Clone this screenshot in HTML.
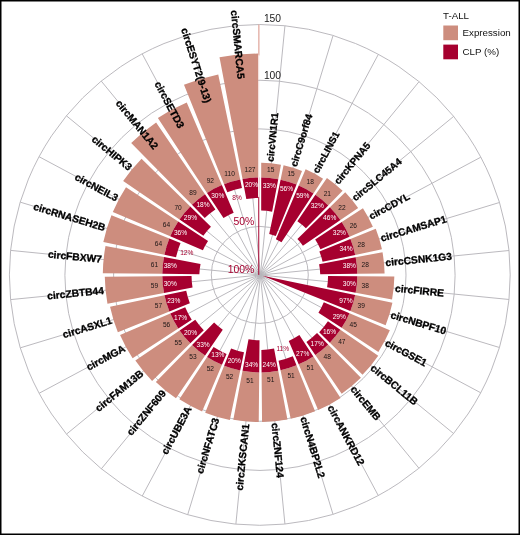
<!DOCTYPE html>
<html lang="en"><head><meta charset="utf-8"><title>T-ALL circRNA expression and CLP</title>
<style>html,body{margin:0;padding:0;background:#fff}body{width:520px;height:535px;overflow:hidden}svg{display:block}</style></head>
<body>
<svg width="520" height="535" viewBox="0 0 520 535">
<rect x="0" y="0" width="520" height="535" fill="#fff"/>
<g fill="none" stroke="#b7b5bb" stroke-width="0.95">
<circle cx="259.8" cy="274.9" r="48.5"/>
<circle cx="259.8" cy="275.1" r="146.2"/>
<circle cx="260" cy="275.35" r="195.1"/>
<circle cx="259.8" cy="274.9" r="250.4"/>
<path d="M260.4 275L235.84 25.65M260.4 275L187.63 35.12M260.4 275L142.19 53.84M260.4 275L101.26 81.08M260.4 275L66.43 115.81M260.4 275L39.06 156.69M260.4 275L20.2 202.14M260.4 275L10.6 250.4M260.4 275L10.62 299.6M260.4 275L20.26 347.85M260.4 275L39.14 393.26M260.4 275L66.53 434.11M260.4 275L101.36 468.8M260.4 275L142.27 496M260.4 275L187.69 514.69M260.4 275L235.86 524.15M260.4 275L284.93 524.04M260.4 275L333.01 514.36M260.4 275L378.26 495.51M260.4 275L418.96 468.21M260.4 275L453.55 433.52M260.4 275L480.72 392.77M260.4 275L499.44 347.51M260.4 275L508.99 299.48M260.4 275L509.01 250.51M260.4 275L499.5 202.47M260.4 275L480.81 157.19M260.4 275L453.65 116.4M260.4 275L419.06 81.67M260.4 275L378.35 54.34M260.4 275L333.06 35.46M260.4 275L284.95 25.77"/>
</g>
<path d="M258 53.58A221.32 221.32 0 0 0 219.51 57.27L242.51 178.95A97.5 97.5 0 0 1 258 177.42ZM218.24 74.41A204.75 204.75 0 0 0 183.98 84.71L224.07 184.18A97.5 97.5 0 0 1 240.17 179.4ZM186.75 102.54A187.2 187.2 0 0 0 157.88 117.88L207 192.94A97.5 97.5 0 0 1 221.87 185.08ZM156.11 122.56A184.27 184.27 0 0 0 131.19 142.93L191.96 204.87A97.5 97.5 0 0 1 205.01 194.25ZM141.55 158.76A165.75 165.75 0 0 0 123.16 181.08L179.54 219.54A97.5 97.5 0 0 1 190.27 206.55ZM126 187.35A159.9 159.9 0 0 0 112.82 211.93L170.24 236.36A97.5 97.5 0 0 1 178.21 221.52ZM111.45 215.24A159.9 159.9 0 0 0 103.34 241.93L164.42 254.69A97.5 97.5 0 0 1 169.32 238.57ZM105.51 245.99A156.97 156.97 0 0 0 102.83 273.24L162.31 273.81A97.5 97.5 0 0 1 163.95 257.03ZM104.79 276.74A155.03 155.03 0 0 0 107.46 303.64L163.99 292.96A97.5 97.5 0 0 1 162.31 276.19ZM110.06 306.66A153.07 153.07 0 0 0 117.85 332.18L169.39 311.41A97.5 97.5 0 0 1 164.46 295.3ZM120.07 334.98A152.1 152.1 0 0 0 132.62 358.32L178.3 328.42A97.5 97.5 0 0 1 170.31 313.61ZM135.34 360.62A151.12 151.12 0 0 0 152.09 380.9L190.37 343.35A97.5 97.5 0 0 1 179.64 330.4ZM155.87 381.91A149.18 149.18 0 0 0 175.99 398.3L205.11 355.61A97.5 97.5 0 0 1 192.06 345.02ZM179.33 399.35A148.2 148.2 0 0 0 202.09 411.4L221.94 364.75A97.5 97.5 0 0 1 207.09 356.92ZM205.19 412.67A148.2 148.2 0 0 0 229.84 420.04L240.21 370.41A97.5 97.5 0 0 1 224.14 365.64ZM233.31 419.72A147.22 147.22 0 0 0 258.74 422.12L259.22 372.4A97.5 97.5 0 0 1 242.54 370.86ZM262.06 422.11A147.22 147.22 0 0 0 287.45 419.51L278.22 370.64A97.5 97.5 0 0 1 261.58 372.38ZM290.71 418.84A147.22 147.22 0 0 0 315.08 411.35L296.5 365.23A97.5 97.5 0 0 1 280.54 370.17ZM318.14 410.07A147.22 147.22 0 0 0 340.58 397.98L313.35 356.38A97.5 97.5 0 0 1 298.67 364.31ZM341.68 393.72A144.3 144.3 0 0 0 360.93 377.83L328.16 344.42A97.5 97.5 0 0 1 315.31 355.05ZM362.53 374.84A143.32 143.32 0 0 0 378.2 355.66L340.35 329.84A97.5 97.5 0 0 1 329.82 342.75ZM378.37 351.9A141.38 141.38 0 0 0 389.85 330.35L349.47 313.17A97.5 97.5 0 0 1 341.65 327.87ZM385.64 325.21A135.53 135.53 0 0 0 392.42 302.83L355.19 295.06A97.5 97.5 0 0 1 350.37 310.99ZM392.06 299.62A134.55 134.55 0 0 0 394.34 276.53L357.29 276.18A97.5 97.5 0 0 1 355.65 292.75ZM384.59 273.56A124.8 124.8 0 0 0 382.51 252.18L355.69 257.25A97.5 97.5 0 0 1 357.29 273.82ZM381.96 249.35A124.8 124.8 0 0 0 375.76 228.78L350.44 238.98A97.5 97.5 0 0 1 355.23 254.93ZM372.87 226.87A122.85 122.85 0 0 0 362.96 208.19L341.74 222.07A97.5 97.5 0 0 1 349.55 236.8ZM358.16 208.01A118.95 118.95 0 0 0 345.23 192.13L329.92 207.15A97.5 97.5 0 0 1 340.44 220.1ZM342.59 190.86A117.97 117.97 0 0 0 326.94 177.89L315.4 194.81A97.5 97.5 0 0 1 328.26 205.47ZM323.05 178.8A115.05 115.05 0 0 0 305.62 169.37L298.75 185.52A97.5 97.5 0 0 1 313.44 193.48ZM302.03 171.03A112.12 112.12 0 0 0 283.57 165.32L280.58 179.64A97.5 97.5 0 0 1 296.56 184.6ZM280.97 164.79A112.12 112.12 0 0 0 261.2 162.78L261.2 177.41A97.5 97.5 0 0 1 278.25 179.16Z" fill="#CD8D7E"/>
<path d="M258 177.42A97.5 97.5 0 0 0 242.51 178.95L246.31 199.08A78 78 0 0 1 258.03 197.92ZM240.17 179.4A97.5 97.5 0 0 0 224.07 184.18L227.33 192.28A89.7 89.7 0 0 1 241.97 187.99ZM221.87 185.08A97.5 97.5 0 0 0 207 192.94L223.48 218.12A68.25 68.25 0 0 1 233.68 212.84ZM205.01 194.25A97.5 97.5 0 0 0 191.96 204.87L204.75 217.92A79.95 79.95 0 0 1 215.37 209.43ZM190.27 206.55A97.5 97.5 0 0 0 179.54 219.54L203.37 235.8A69.22 69.22 0 0 1 210.96 226.85ZM178.21 221.52A97.5 97.5 0 0 0 170.24 236.36L202.91 250.26A62.4 62.4 0 0 1 208.05 241.04ZM169.32 238.57A97.5 97.5 0 0 0 164.42 254.69L176.08 257.13A85.8 85.8 0 0 1 180.53 243.08ZM163.95 257.03A97.5 97.5 0 0 0 162.31 273.81L199.37 274.16A60.45 60.45 0 0 1 200.54 263.95ZM162.31 276.19A97.5 97.5 0 0 0 163.99 292.96L192.55 287.56A68.25 68.25 0 0 1 191.55 275.91ZM164.46 295.3A97.5 97.5 0 0 0 169.39 311.41L189.85 303.16A75.08 75.08 0 0 1 186.21 290.76ZM170.31 313.61A97.5 97.5 0 0 0 178.3 328.42L191.72 319.64A80.92 80.92 0 0 1 185.2 307.27ZM179.64 330.4A97.5 97.5 0 0 0 190.37 343.35L203.79 330.18A78 78 0 0 1 195.28 319.73ZM192.06 345.02A97.5 97.5 0 0 0 205.11 355.61L222.77 329.71A65.33 65.33 0 0 1 214.09 322.57ZM207.09 356.92A97.5 97.5 0 0 0 221.94 364.75L226.54 353.93A84.83 84.83 0 0 1 213.57 347.02ZM224.14 365.64A97.5 97.5 0 0 0 240.21 370.41L244 352.28A78 78 0 0 1 231.08 348.42ZM242.54 370.86A97.5 97.5 0 0 0 259.22 372.4L259.52 340.25A64.35 64.35 0 0 1 248.52 339.25ZM261.58 372.38A97.5 97.5 0 0 0 278.22 370.64L274.05 348.62A74.1 74.1 0 0 1 261.37 349.98ZM280.54 370.17A97.5 97.5 0 0 0 296.5 365.23L292.83 356.14A86.78 86.78 0 0 1 278.55 360.63ZM298.67 364.31A97.5 97.5 0 0 0 313.35 356.38L299.39 335.05A71.17 71.17 0 0 1 288.73 340.93ZM315.31 355.05A97.5 97.5 0 0 0 328.16 344.42L317.04 333.1A80.92 80.92 0 0 1 306.43 342.04ZM329.82 342.75A97.5 97.5 0 0 0 340.35 329.84L327.92 321.36A81.9 81.9 0 0 1 319.18 332.31ZM341.65 327.87A97.5 97.5 0 0 0 349.47 313.17L323.81 302.25A69.22 69.22 0 0 1 318.44 312.68ZM350.37 310.99A97.5 97.5 0 0 0 355.19 295.06L262.53 275.64ZM355.65 292.75A97.5 97.5 0 0 0 357.29 276.18L328.05 275.9A68.25 68.25 0 0 1 327.08 287.35ZM357.29 273.82A97.5 97.5 0 0 0 355.69 257.25L319.1 264.16A60.45 60.45 0 0 1 320.23 274.18ZM355.23 254.93A97.5 97.5 0 0 0 350.44 238.98L319.35 251.51A64.35 64.35 0 0 1 322.58 261.76ZM349.55 236.8A97.5 97.5 0 0 0 341.74 222.07L315.18 239.45A66.3 66.3 0 0 1 320.47 249.17ZM340.44 220.1A97.5 97.5 0 0 0 329.92 207.15L297.4 239.05A52.65 52.65 0 0 1 302.92 245.7ZM328.26 205.47A97.5 97.5 0 0 0 315.4 194.81L297.36 221.26A66.3 66.3 0 0 1 305.91 228.26ZM313.44 193.48A97.5 97.5 0 0 0 298.75 185.52L275.86 239.29A39.98 39.98 0 0 1 281.49 242.32ZM296.56 184.6A97.5 97.5 0 0 0 280.58 179.64L269.21 234.04A42.9 42.9 0 0 1 275.81 236.1ZM278.25 179.16A97.5 97.5 0 0 0 261.2 177.41L261.19 210.59A65.33 65.33 0 0 1 272.1 211.74Z" fill="#A6002F"/>
<line x1="258.85" y1="24.5" x2="258.85" y2="55.57" stroke="#E2AAA0" stroke-width="1.3"/>
<line x1="258.7" y1="55.57" x2="258.7" y2="177.4" stroke="#E2AAA0" stroke-width="1" opacity="0.45"/>
<line x1="259.2" y1="177.4" x2="259.2" y2="196.9" stroke="#A6002F" stroke-width="0.8" opacity="0.35"/>
<line x1="258.75" y1="196.9" x2="258.75" y2="274.9" stroke="#A6002F" stroke-width="1"/>
<g font-family="Liberation Sans, Arial, Helvetica, sans-serif" font-size="6.6" text-anchor="middle">
<text x="250" y="171.65" fill="#1a1414">127</text>
<text x="251.56" y="187.48" fill="#fff">20%</text>
<text x="229.58" y="175.6" fill="#1a1414">110</text>
<text x="237.04" y="200.2" fill="#A6002F">8%</text>
<text x="210.3" y="183.48" fill="#1a1414">92</text>
<text x="217.8" y="197.5" fill="#fff">30%</text>
<text x="192.93" y="194.98" fill="#1a1414">89</text>
<text x="203.01" y="207.28" fill="#fff">18%</text>
<text x="178.13" y="209.68" fill="#1a1414">70</text>
<text x="190.42" y="219.77" fill="#fff">29%</text>
<text x="166.5" y="227.01" fill="#1a1414">64</text>
<text x="180.52" y="234.5" fill="#fff">36%</text>
<text x="158.48" y="246.28" fill="#1a1414">64</text>
<text x="186.81" y="254.88" fill="#A6002F">12%</text>
<text x="154.41" y="266.76" fill="#1a1414">61</text>
<text x="170.23" y="268.32" fill="#fff">38%</text>
<text x="154.43" y="287.64" fill="#1a1414">59</text>
<text x="170.25" y="286.08" fill="#fff">30%</text>
<text x="158.54" y="308.1" fill="#1a1414">57</text>
<text x="173.75" y="303.48" fill="#fff">23%</text>
<text x="166.58" y="327.35" fill="#1a1414">56</text>
<text x="180.6" y="319.85" fill="#fff">17%</text>
<text x="178.23" y="344.64" fill="#1a1414">55</text>
<text x="190.52" y="334.55" fill="#fff">20%</text>
<text x="193.03" y="359.3" fill="#1a1414">53</text>
<text x="203.11" y="347" fill="#fff">33%</text>
<text x="210.39" y="370.77" fill="#1a1414">52</text>
<text x="217.88" y="356.74" fill="#fff">13%</text>
<text x="229.64" y="378.61" fill="#1a1414">52</text>
<text x="234.25" y="363.4" fill="#fff">20%</text>
<text x="250.02" y="382.55" fill="#1a1414">51</text>
<text x="251.58" y="366.72" fill="#fff">34%</text>
<text x="270.76" y="382.43" fill="#1a1414">51</text>
<text x="269.21" y="366.61" fill="#fff">24%</text>
<text x="291.06" y="378.28" fill="#1a1414">51</text>
<text x="282.75" y="350.89" fill="#A6002F">11%</text>
<text x="310.15" y="370.27" fill="#1a1414">51</text>
<text x="302.65" y="356.24" fill="#fff">27%</text>
<text x="327.29" y="358.71" fill="#1a1414">48</text>
<text x="317.2" y="346.42" fill="#fff">17%</text>
<text x="341.85" y="344.05" fill="#1a1414">47</text>
<text x="329.56" y="333.96" fill="#fff">16%</text>
<text x="353.29" y="326.85" fill="#1a1414">45</text>
<text x="339.26" y="319.35" fill="#fff">29%</text>
<text x="361.16" y="307.77" fill="#1a1414">39</text>
<text x="345.95" y="303.15" fill="#fff">97%</text>
<text x="365.19" y="287.52" fill="#1a1414">38</text>
<text x="349.36" y="285.96" fill="#fff">30%</text>
<text x="365.21" y="266.88" fill="#1a1414">28</text>
<text x="349.38" y="268.44" fill="#fff">38%</text>
<text x="361.22" y="246.62" fill="#1a1414">28</text>
<text x="346" y="251.23" fill="#fff">34%</text>
<text x="353.37" y="227.51" fill="#1a1414">26</text>
<text x="339.35" y="235" fill="#fff">32%</text>
<text x="341.95" y="210.27" fill="#1a1414">22</text>
<text x="329.66" y="220.36" fill="#fff">46%</text>
<text x="327.39" y="195.57" fill="#1a1414">21</text>
<text x="317.3" y="207.86" fill="#fff">32%</text>
<text x="310.23" y="183.98" fill="#1a1414">18</text>
<text x="302.73" y="198" fill="#fff">59%</text>
<text x="291.12" y="175.94" fill="#1a1414">15</text>
<text x="286.5" y="191.15" fill="#fff">56%</text>
<text x="270.78" y="171.77" fill="#1a1414">15</text>
<text x="269.23" y="187.59" fill="#fff">33%</text>
</g>
<g font-family="Liberation Sans, Arial, Helvetica, sans-serif" font-size="10.25" font-weight="bold" fill="#000" stroke="#000" stroke-width="0.3" stroke-linejoin="round">
<text transform="translate(241.08 78.79) rotate(84.38)" text-anchor="end" y="3.5">circSMARCA5</text>
<text transform="translate(208.07 102.49) rotate(72.22)" text-anchor="end" y="3.5">circESYT2(9-13)</text>
<text transform="translate(181.5 127.39) rotate(61.88)" text-anchor="end" y="3.5">circSETD3</text>
<text transform="translate(156.2 148.03) rotate(50.62)" text-anchor="end" y="3.5">circMAN1A2</text>
<text transform="translate(130.55 168.44) rotate(39.38)" text-anchor="end" y="3.5">circHIPK3</text>
<text transform="translate(117.37 198.55) rotate(28.12)" text-anchor="end" y="3.5">circNEIL3</text>
<text transform="translate(105.18 227.91) rotate(16.88)" text-anchor="end" y="3.5">circRNASEH2B</text>
<text transform="translate(101.89 259.39) rotate(5.62)" text-anchor="end" y="3.5">circFBXW7</text>
<text transform="translate(103.85 290.42) rotate(-5.62)" text-anchor="end" y="3.5">circZBTB44</text>
<text transform="translate(111.77 320.09) rotate(-16.88)" text-anchor="end" y="3.5">circASXL1</text>
<text transform="translate(124.34 347.73) rotate(-28.12)" text-anchor="end" y="3.5">circMGA</text>
<text transform="translate(141.96 372.2) rotate(-39.38)" text-anchor="end" y="3.5">circFAM13B</text>
<text transform="translate(164.49 391.86) rotate(-50.62)" text-anchor="end" y="2.7">circZNF609</text>
<text transform="translate(189.65 407.37) rotate(-61.88)" text-anchor="end" y="2.7">circUBE3A</text>
<text transform="translate(216.86 418.52) rotate(-73.12)" text-anchor="end" y="2.7">circNFATC3</text>
<text transform="translate(245.73 423.96) rotate(-84.38)" text-anchor="end" y="3.5">circZKSCAN1</text>
<text transform="translate(274.96 422.85) rotate(84.38)" text-anchor="start" y="3.5">circZNF124</text>
<text transform="translate(303.49 417.06) rotate(73.13)" text-anchor="start" y="3.5">circN4BP2L2</text>
<text transform="translate(330.33 405.84) rotate(61.88)" text-anchor="start" y="3.5">circANKRD12</text>
<text transform="translate(352.6 387.35) rotate(50.63)" text-anchor="start" y="3.5">circEMB</text>
<text transform="translate(371.94 366.54) rotate(39.38)" text-anchor="start" y="3.5">circBCL11B</text>
<text transform="translate(385.9 342.08) rotate(28.13)" text-anchor="start" y="3.5">circGSE1</text>
<text transform="translate(390.95 314.6) rotate(16.88)" text-anchor="start" y="3.5">circNBPF10</text>
<text transform="translate(395.19 288.28) rotate(5.62)" text-anchor="start" y="3.5">circFIRRE</text>
<text transform="translate(385.51 262.68) rotate(-5.62)" text-anchor="start" y="3.5">circCSNK1G3</text>
<text transform="translate(380.74 238.5) rotate(-16.87)" text-anchor="start" y="3.5">circCAMSAP1</text>
<text transform="translate(369.64 216.61) rotate(-28.12)" text-anchor="start" y="3.5" font-size="9.9">circCDYL</text>
<text transform="translate(353.2 198.84) rotate(-39.38)" text-anchor="start" y="3.5" font-size="9.9">circSLC45A4</text>
<text transform="translate(336 182.88) rotate(-50.63)" text-anchor="start" y="3.5" font-size="9.9">circKPNA5</text>
<text transform="translate(315.25 172.38) rotate(-61.87)" text-anchor="start" y="3.5" font-size="9.9">circLINS1</text>
<text transform="translate(293.36 166.34) rotate(-73.12)" text-anchor="start" y="3.5" font-size="9.9">circC9orf84</text>
<text transform="translate(271.54 161.88) rotate(-84.38)" text-anchor="start" y="2" font-size="9.9">circVN1R1</text>
</g>
<g font-family="Liberation Sans, Arial, Helvetica, sans-serif">
<text x="263.9" y="22.4" font-size="10.3" fill="#1a1a1a">150</text>
<text x="263.9" y="78.5" font-size="10.3" fill="#1a1a1a">100</text>
<text x="254.3" y="224.9" font-size="10.4" fill="#A6002F" text-anchor="end">50%</text>
<text x="254.3" y="273.4" font-size="10.4" fill="#A6002F" text-anchor="end">100%</text>
<text x="443.0" y="18.7" font-size="9.75" fill="#111">T-ALL</text>
<rect x="443.3" y="25.5" width="14.7" height="14.7" fill="#CD8D7E"/>
<rect x="443.3" y="44.6" width="14.7" height="14.7" fill="#A6002F"/>
<text x="462.5" y="35.9" font-size="9.75" fill="#111">Expression</text>
<text x="462.5" y="54.8" font-size="9.75" fill="#111">CLP (%)</text>
</g>
<path d="M0 0H520V535H0Z M1.5 1.5H518.5V533.4H1.5Z" fill="#000" fill-rule="evenodd"/>
</svg>
</body></html>
